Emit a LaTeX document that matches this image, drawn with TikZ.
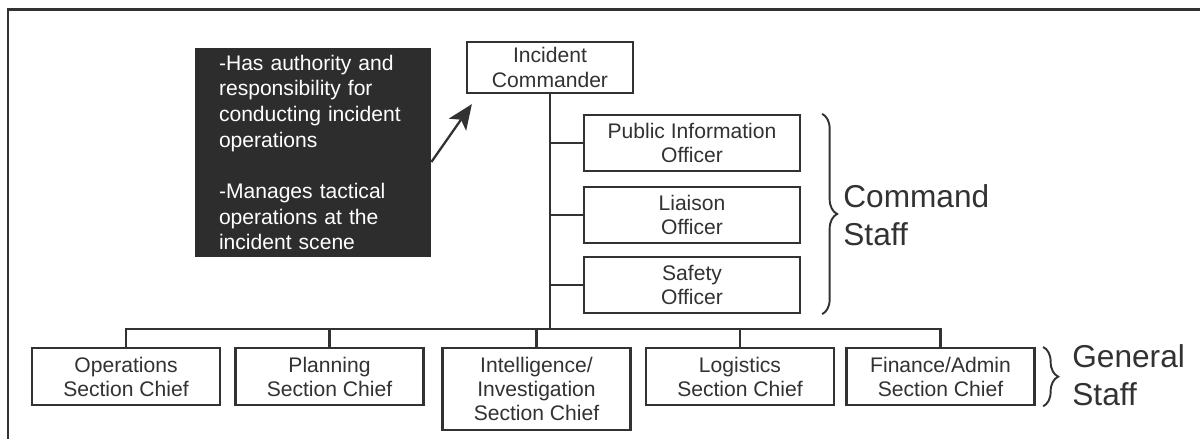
\documentclass[tikz,border=0pt]{standalone}
\usepackage{fontspec}
\setmainfont{Liberation Sans}
\definecolor{inkgray}{RGB}{50, 50, 50}
\definecolor{notebg}{RGB}{45, 45, 45}
\usetikzlibrary{arrows.meta, decorations.pathreplacing}
\tikzset{
  orgbox/.style={draw=inkgray, line width=1.3pt, fill=white, text=inkgray, minimum width=3.76cm, minimum height=1.14cm, align=center, inner sep=2pt, font=\fontsize{12}{13.8}\selectfont},
  sidebox/.style={minimum width=4.32cm, minimum height=1.12cm},
  notebox/.style={fill=notebg, text=white, minimum width=4.72cm, minimum height=4.18cm, text width=3.76cm, inner xsep=0.48cm, inner ysep=0pt, align=left, font=\fontsize{12}{14.6}\selectfont},
  link/.style={draw=inkgray, line width=1.3pt},
  pointer/.style={draw=inkgray, line width=1.3pt, -{Stealth[length=0.5cm, width=0.42cm, inset=0.12cm]}},
  staffbrace/.style={draw=inkgray, line width=1.1pt, decorate, decoration={brace, amplitude=0.3cm}},
  stafflabel/.style={anchor=west, inner sep=0pt, align=left, text=inkgray, font=\fontsize{18}{21.6}\selectfont}
}

\begin{document}
\begin{tikzpicture}
  \useasboundingbox (0,0) rectangle (24,-8.78);
  % Frame
  \draw[link, line width=1.6pt] (0.16,-8.78) -- (0.16,-0.19) -- (24,-0.19);

  % Commander and note
  \node[orgbox, minimum width=3.32cm, minimum height=1.02cm] (ic) at (11.0,-1.35) {Incident\\Commander};
  \node[notebox] (note) at (6.26,-3.05) {-Has authority and\\responsibility for\\conducting incident\\operations\\[14.6pt]-Manages tactical\\operations at the\\incident scene};
  \draw[pointer] ([yshift=-0.19cm]note.east) -- ([xshift=0.12cm, yshift=-0.2cm]ic.south west);

  % Command staff
  \node[orgbox, sidebox] (pio) at (13.84,-2.86) {Public Information\\Officer};
  \node[orgbox, sidebox] (liaison) at (13.84,-4.30) {Liaison\\Officer};
  \node[orgbox, sidebox] (safety) at (13.84,-5.70) {Safety\\Officer};

  % General staff
  \node[orgbox, anchor=north] (ops) at (2.52,-6.94) {Operations\\Section Chief};
  \node[orgbox, anchor=north] (plan) at (6.59,-6.94) {Planning\\Section Chief};
  \node[orgbox, anchor=north, minimum height=1.64cm] (intel) at (10.73,-6.94) {Intelligence/\\Investigation\\Section Chief};
  \node[orgbox, anchor=north] (log) at (14.80,-6.94) {Logistics\\Section Chief};
  \node[orgbox, anchor=north] (fin) at (18.81,-6.94) {Finance/Admin\\Section Chief};

  % Lines
  \coordinate (bus) at (11.0,-6.58);
  \draw[link] (ic.south) -- (bus);
  \draw[link] (pio.west) -- (pio.west -| bus);
  \draw[link] (liaison.west) -- (liaison.west -| bus);
  \draw[link] (safety.west) -- (safety.west -| bus);
  \draw[link] (ops.north) |- (bus) -| (fin.north);
  \draw[link] (plan.north) -- (plan.north |- bus);
  \draw[link] (intel.north) -- (intel.north |- bus);
  \draw[link] (log.north) -- (log.north |- bus);

  % Braces
  \coordinate (cmdtop) at ([xshift=0.42cm]pio.north east);
  \coordinate (cmdbot) at ([xshift=0.42cm]safety.south east);
  \draw[staffbrace] (cmdtop) -- (cmdbot);
  \node[stafflabel] (cmdlabel) at (16.86,-4.30) {Command\\Staff};

  \coordinate (gentop) at ([xshift=0.15cm]fin.north east);
  \coordinate (genbot) at ([xshift=0.15cm]fin.south east);
  \draw[staffbrace] (gentop) -- (genbot);
  \node[stafflabel] (genlabel) at (21.44,-7.50) {General\\Staff};
\end{tikzpicture}
\end{document}
